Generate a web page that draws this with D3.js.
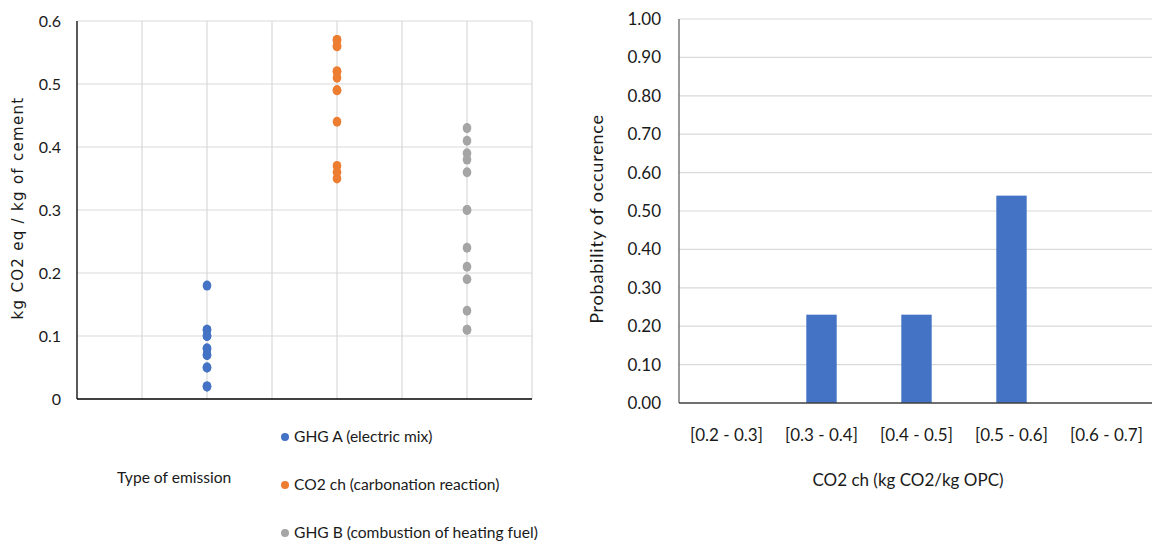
<!DOCTYPE html>
<html>
  <head>
    <style>
      body { margin: 0; background: #fff; }
      svg { font-family: Lato, "Open Sans", sans-serif; }
    </style>
  </head>
  <body>
    <svg></svg>
    <script src="https://d3js.org/d3.v7.min.js"></script>
    <script type="text/javascript">

      // left chart: emissions per type
      var seriesNames = ["GHG A (electric mix)", "CO2 ch (carbonation reaction)", "GHG B (combustion of heating fuel)"];
      var seriesColors = ["#4472C4", "#ED7D31", "#A5A5A5"];
      var seriesX = [1, 2, 3];
      var ghgA = [0.18, 0.11, 0.11, 0.10, 0.10, 0.08, 0.08, 0.07, 0.07, 0.05, 0.05, 0.02, 0.02];
      var co2ch = [0.57, 0.57, 0.56, 0.56, 0.52, 0.52, 0.51, 0.49, 0.49, 0.44, 0.37, 0.36, 0.35];
      var ghgB = [0.43, 0.41, 0.39, 0.38, 0.36, 0.30, 0.30, 0.24, 0.21, 0.19, 0.14, 0.11, 0.11];
      var leftYTicks = [0, 0.1, 0.2, 0.3, 0.4, 0.5, 0.6];
      var leftXGrid = [0.5, 1, 1.5, 2, 2.5, 3, 3.5];

      // right chart: histogram of CO2 ch
      var bins = ["[0.2 - 0.3]", "[0.3 - 0.4]", "[0.4 - 0.5]", "[0.5 - 0.6]", "[0.6 - 0.7]"];
      var probs = [0, 0.23, 0.23, 0.54, 0];
      var rightYTicks = [0, 0.1, 0.2, 0.3, 0.4, 0.5, 0.6, 0.7, 0.8, 0.9, 1.0];

      var svg = d3.select("svg")
        .attr("width", 1152)
        .attr("height", 544)

      // ---------- left scatter ----------
      var x1 = d3.scaleLinear().domain([0, 3.5]).range([77, 532]);
      var y1 = d3.scaleLinear().domain([0, 0.6]).range([399, 21]);

      var left = svg.append("g");

      left.selectAll("line.hgrid")
        .data(leftYTicks.slice(1))
        .join("line")
        .attr("class", "hgrid")
        .attr("x1", x1(0)).attr("x2", x1(3.5))
        .attr("y1", d => y1(d)).attr("y2", d => y1(d))
        .attr("stroke", "#d9d9d9").attr("stroke-width", 1.2)

      left.selectAll("line.vgrid")
        .data(leftXGrid)
        .join("line")
        .attr("class", "vgrid")
        .attr("x1", d => x1(d)).attr("x2", d => x1(d))
        .attr("y1", y1(0.6)).attr("y2", y1(0))
        .attr("stroke", "#d9d9d9").attr("stroke-width", 1.2)

      // axes
      left.append("line")
        .attr("x1", x1(0)).attr("x2", x1(0))
        .attr("y1", y1(0.6)).attr("y2", y1(0))
        .attr("stroke", "#000").attr("stroke-width", 1.3)
      left.append("line")
        .attr("x1", x1(0)).attr("x2", x1(3.5))
        .attr("y1", y1(0)).attr("y2", y1(0))
        .attr("stroke", "#000").attr("stroke-width", 1.5)

      left.selectAll("text.ytick")
        .data(leftYTicks)
        .join("text")
        .attr("class", "ytick")
        .attr("x", 61)
        .attr("y", d => y1(d))
        .attr("dy", "0.35em")
        .attr("text-anchor", "end")
        .attr("font-size", 16)
        .attr("fill", "#1a1a1a")
        .text(d => d === 0 ? "0" : d3.format(".1f")(d))

      left.append("text")
        .attr("transform", "translate(23," + 208 + ") rotate(-90)")
        .attr("text-anchor", "middle")
        .attr("font-family", "DejaVu Sans, Verdana, sans-serif")
        .attr("font-size", 15)
        .attr("letter-spacing", 1.3)
        .attr("fill", "#1a1a1a")
        .text("kg CO2 eq / kg of cement")

      var allSeries = [ghgA, co2ch, ghgB];
      allSeries.forEach(function (vals, i) {
        left.selectAll("ellipse.s" + i)
          .data(vals)
          .join("ellipse")
          .attr("class", "s" + i)
          .attr("cx", x1(seriesX[i]))
          .attr("cy", d => y1(d))
          .attr("rx", 4.3).attr("ry", 5)
          .attr("fill", seriesColors[i])
      })

      left.append("text")
        .attr("x", 117).attr("y", 478)
        .attr("dy", "0.35em")
        .attr("font-size", 15.6)
        .attr("fill", "#1a1a1a")
        .text("Type of emission")

      var leg = left.selectAll("g.leg")
        .data(seriesNames)
        .join("g")
        .attr("class", "leg")
        .attr("transform", (d, i) => "translate(285," + (437 + i * 48) + ")")
      leg.append("circle")
        .attr("r", 4)
        .attr("fill", (d, i) => seriesColors[i])
      leg.append("text")
        .attr("x", 9)
        .attr("dy", "0.35em")
        .attr("font-size", 15.6)
        .attr("fill", "#1a1a1a")
        .text(d => d)

      // ---------- right histogram ----------
      var x2 = d3.scaleBand().domain(bins).range([679, 1154]).padding(0);
      var y2 = d3.scaleLinear().domain([0, 1]).range([403, 19]);

      var right = svg.append("g");

      right.selectAll("line.hgrid")
        .data(rightYTicks.slice(1))
        .join("line")
        .attr("class", "hgrid")
        .attr("x1", 679).attr("x2", 1154)
        .attr("y1", d => y2(d)).attr("y2", d => y2(d))
        .attr("stroke", "#d9d9d9").attr("stroke-width", 1.2)

      var barW = x2.bandwidth() * 0.32;
      right.selectAll("rect.bar")
        .data(probs)
        .join("rect")
        .attr("class", "bar")
        .attr("x", (d, i) => x2(bins[i]) + x2.bandwidth() / 2 - barW / 2)
        .attr("width", barW)
        .attr("y", d => y2(d))
        .attr("height", d => y2(0) - y2(d))
        .attr("fill", "#4472C4")

      right.append("line")
        .attr("x1", 679).attr("x2", 679)
        .attr("y1", y2(1)).attr("y2", y2(0))
        .attr("stroke", "#595959").attr("stroke-width", 1.2)
      right.append("line")
        .attr("x1", 679).attr("x2", 1154)
        .attr("y1", y2(0)).attr("y2", y2(0))
        .attr("stroke", "#404040").attr("stroke-width", 1.5)

      right.selectAll("text.ytick")
        .data(rightYTicks)
        .join("text")
        .attr("class", "ytick")
        .attr("x", 661)
        .attr("y", d => y2(d))
        .attr("dy", "0.35em")
        .attr("text-anchor", "end")
        .attr("font-size", 17)
        .attr("fill", "#1a1a1a")
        .text(d => d3.format(".2f")(d))

      right.selectAll("text.xtick")
        .data(bins)
        .join("text")
        .attr("class", "xtick")
        .attr("x", d => x2(d) + x2.bandwidth() / 2)
        .attr("y", 441)
        .attr("text-anchor", "middle")
        .attr("font-size", 17)
        .attr("fill", "#1a1a1a")
        .text(d => d)

      right.append("text")
        .attr("x", 908).attr("y", 480)
        .attr("dy", "0.35em")
        .attr("text-anchor", "middle")
        .attr("font-size", 17)
        .attr("fill", "#1a1a1a")
        .text("CO2 ch (kg CO2/kg OPC)")

      right.append("text")
        .attr("transform", "translate(603," + 219 + ") rotate(-90)")
        .attr("text-anchor", "middle")
        .attr("font-size", 18)
        .attr("letter-spacing", 0.8)
        .attr("fill", "#1a1a1a")
        .text("Probability of occurence")

    </script>
  </body>
</html>
